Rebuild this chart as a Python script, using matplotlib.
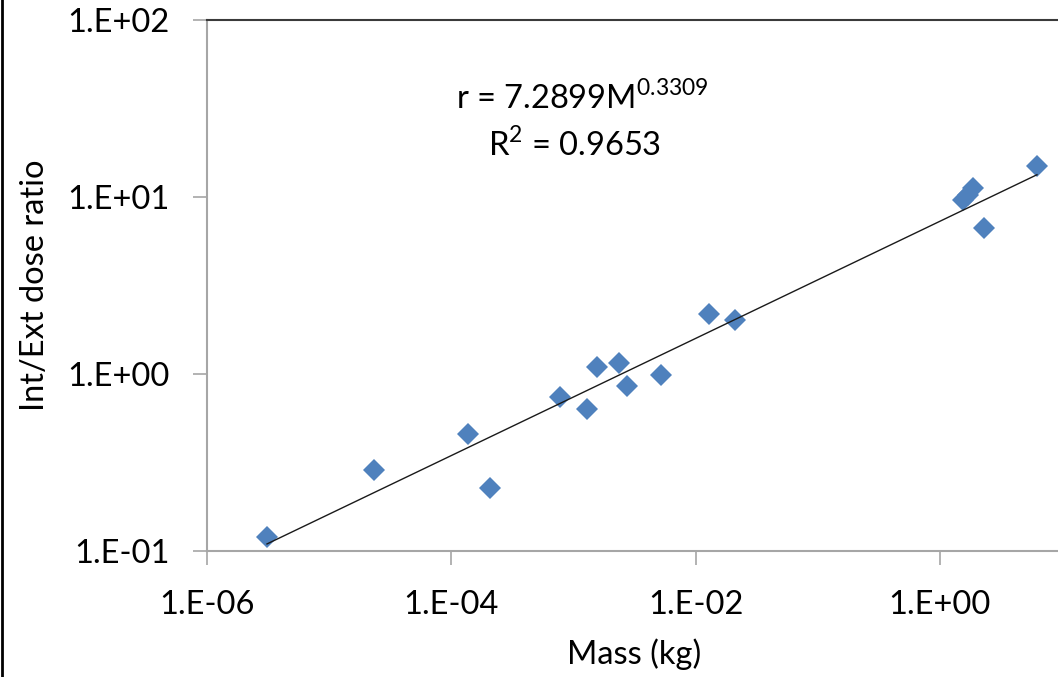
import numpy as np
import matplotlib
matplotlib.use('Agg')
import matplotlib.pyplot as plt
from matplotlib.ticker import FixedLocator, FuncFormatter, NullLocator
from matplotlib.lines import Line2D

plt.rcParams['font.family'] = ['Lato', 'DejaVu Sans']
plt.rcParams['mathtext.fontset'] = 'custom'
plt.rcParams['mathtext.rm'] = 'Lato'

# (kg, ratio)
mass = [3.1e-6, 2.34e-5, 1.38e-4, 2.09e-4, 7.7e-4, 1.30e-3, 1.55e-3,
        2.34e-3, 2.77e-3, 5.26e-3, 0.0130, 0.0209, 1.55, 1.70, 1.86, 2.30, 6.24]
ratio = [0.12, 0.287, 0.458, 0.227, 0.741, 0.634, 1.10,
         1.15, 0.855, 0.986, 2.18, 2.02, 9.6, 10.3, 11.2, 6.7, 15.0]

# power trendline from the chart
coef = 7.2899
expo = 0.3309
r2 = 0.9653

xticks = [1e-6, 1e-4, 1e-2, 1e0]
yticks = [1e-1, 1e0, 1e1, 1e2]

W, H = 1058, 677
fig = plt.figure(figsize=(W / 100, H / 100), dpi=100)
ax = fig.add_axes([207 / W, (H - 551) / H, (1062 - 207) / W, (551 - 20) / H])

ax.set_xscale('log')
ax.set_yscale('log')
ax.set_xlim(1e-6, 1e1)
ax.set_ylim(1e-1, 1e2)

# trendline over the data range
xt = np.logspace(np.log10(min(mass)), np.log10(max(mass)), 50)
ax.plot(xt, coef * xt ** expo, color='#1a1a1a', lw=1.0, zorder=3)

ax.plot(mass, ratio, linestyle='none', marker='D', markersize=11.5,
        color='#4F81BD', markeredgewidth=0, zorder=2)


def fmt(v, pos):
    e = int(round(np.log10(v)))
    return '1.E%s%02d' % ('+' if e >= 0 else '-', abs(e))


ax.xaxis.set_major_locator(FixedLocator(xticks))
ax.yaxis.set_major_locator(FixedLocator(yticks))
ax.xaxis.set_minor_locator(NullLocator())
ax.yaxis.set_minor_locator(NullLocator())
ax.xaxis.set_major_formatter(FuncFormatter(fmt))
ax.yaxis.set_major_formatter(FuncFormatter(fmt))

ax.tick_params(axis='both', which='major', direction='out', length=10,
               width=1.2, color='#a6a6a6', labelsize=23.5, labelcolor='black')
ax.tick_params(axis='x', pad=18)
ax.tick_params(axis='y', pad=17)

for s in ['left', 'bottom']:
    ax.spines[s].set_color('#a6a6a6')
    ax.spines[s].set_linewidth(1.5)
ax.spines['right'].set_visible(False)
ax.spines['top'].set_color('#3a3a3a')
ax.spines['top'].set_linewidth(1.5)

ax.set_xlabel('Mass (kg)', fontsize=23.5, labelpad=13)
ax.set_ylabel('Int/Ext dose ratio', fontsize=23.5, labelpad=12)

fig.text(582 / W, 1 - 98 / H, r'r = 7.2899M$^{0.3309}$', fontsize=23.5,
         ha='center', va='center')
fig.text(575 / W, 1 - 145 / H, r'R$^{2}$ = %.4f' % r2, fontsize=23.5,
         ha='center', va='center')

# dark edge line at the very left of the picture
fig.add_artist(Line2D([1.5 / W, 1.5 / W], [0, 1], color='black', lw=2,
                      transform=fig.transFigure))

fig.savefig('out.png', dpi=100)
